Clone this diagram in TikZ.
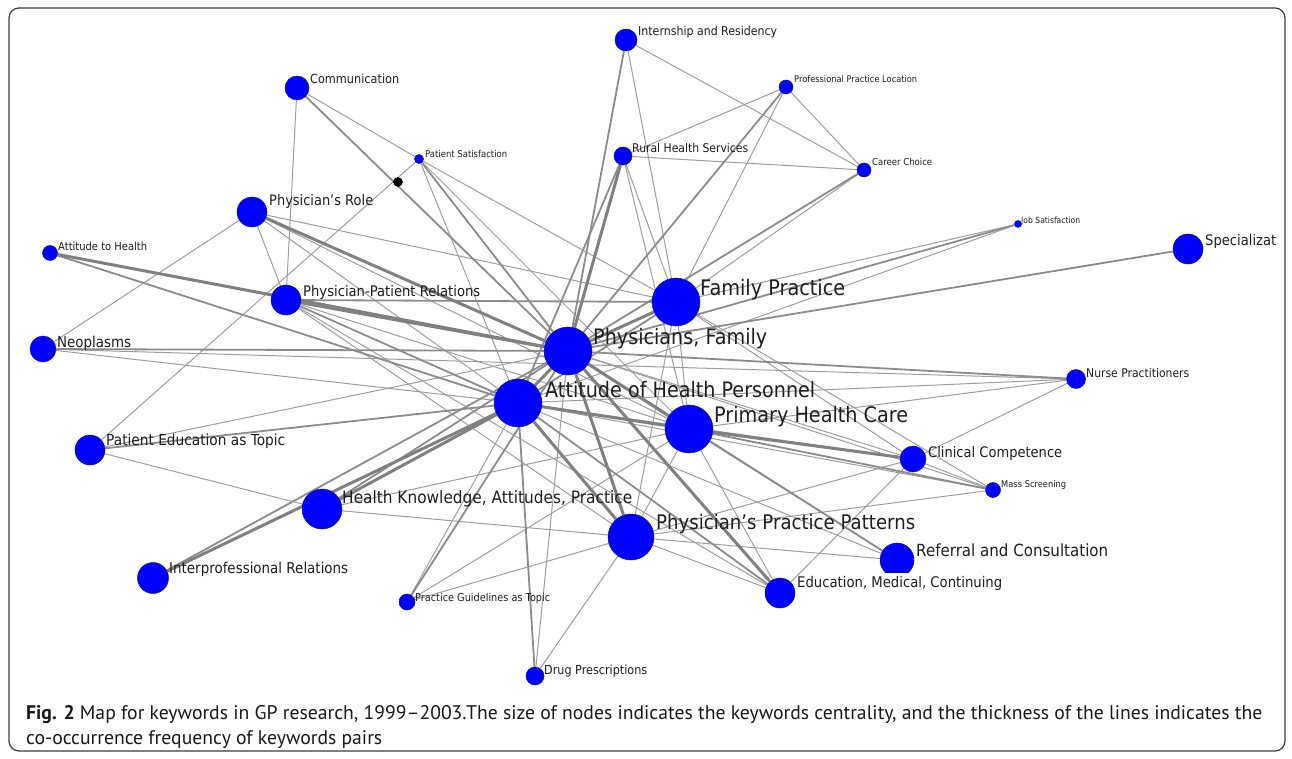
\documentclass[tikz,border=0pt]{standalone}
\usepackage{fontspec}
\usepackage{graphicx}
\newfontfamily\labfont[FakeStretch=0.9]{DejaVu Sans}
\newfontfamily\capfont{PT Sans}
\usetikzlibrary{backgrounds}
\definecolor{kwblue}{RGB}{0,0,255}
\definecolor{kwrim}{RGB}{20,20,150}
\definecolor{thingray}{RGB}{158,158,158}
\definecolor{midgray}{RGB}{140,140,140}
\definecolor{thickgray}{RGB}{128,128,128}
\definecolor{framegray}{RGB}{60,60,60}
\definecolor{labgray}{RGB}{30,30,30}
\newcommand{\kwl}[2]{\resizebox{#1pt}{!}{\labfont #2}}
\begin{document}
\begin{tikzpicture}[x=1pt,y=-1pt,
  kw/.style={circle, fill=kwblue, draw=kwrim, line width=0.5pt, inner sep=0pt, minimum size=#1pt},
  lbl/.style={anchor=base west, inner sep=0pt, text=labgray},
  ethin/.style={draw=thingray, line width=1pt},
  emid/.style={draw=midgray, line width=1.8pt},
  ethick/.style={draw=thickgray, line width=3pt}]
\useasboundingbox (0,0) rectangle (1292,759);
\draw[framegray, line width=1.2pt, rounded corners=10pt] (9,8) rectangle (1285,751);

% keyword nodes
\node[kw=22] (ir) at (626,40) {};
\node[kw=24] (comm) at (297,88) {};
\node[kw=14] (ppl) at (786,87) {};
\node[kw=9] (ps) at (419,159) {};
\node[kw=9, fill=black, draw=black] (bd) at (398,182) {};
\node[kw=18] (rhs) at (623,156) {};
\node[kw=14] (carc) at (864,170) {};
\node[kw=30] (pr) at (252,212) {};
\node[kw=7] (js) at (1018,224) {};
\node[kw=15] (ath) at (50,253) {};
\node[kw=30] (spec) at (1188,249) {};
\node[kw=48] (fp) at (676,302) {};
\node[kw=30] (ppr) at (286,300) {};
\node[kw=26] (neo) at (43,349) {};
\node[kw=48] (pf) at (568,351) {};
\node[kw=19] (np) at (1076,379) {};
\node[kw=48] (ahp) at (518,403) {};
\node[kw=48] (phc) at (689,429) {};
\node[kw=30] (pe) at (90,450) {};
\node[kw=26] (clc) at (913,459) {};
\node[kw=15] (ms) at (993,490) {};
\node[kw=40] (hk) at (322,509) {};
\node[kw=46] (ppp) at (631,537) {};
\begin{scope}
  \clip (870,530) rectangle (925,572);
  \node[kw=34] (ref) at (897,560) {};
\end{scope}
\node[kw=31] (ipr) at (153,578) {};
\node[kw=30] (emc) at (780,593) {};
\node[kw=16] (pg) at (407,602) {};
\node[kw=18] (dp) at (535,676) {};

% labels
\node[lbl] (fp-l) at (700,295) {\kwl{145}{Family Practice}};
\node[lbl] (pf-l) at (593,344) {\kwl{174}{Physicians, Family}};
\node[lbl] (ahp-l) at (545,397) {\kwl{270}{Attitude of Health Personnel}};
\node[lbl] (phc-l) at (714,422) {\kwl{194}{Primary Health Care}};
\node[lbl] (hk-l) at (342,503) {\kwl{290}{Health Knowledge, Attitudes, Practice}};
\node[lbl] (ppp-l) at (656,529) {\kwl{259}{Physician’s Practice Patterns}};
\node[lbl] (ref-l) at (916,556) {\kwl{192}{Referral and Consultation}};
\node[lbl] (clc-l) at (928,457) {\kwl{134}{Clinical Competence}};
\node[lbl] (emc-l) at (797,587) {\kwl{205}{Education, Medical, Continuing}};
\node[lbl] (ppr-l) at (303,296) {\kwl{177}{Physician-Patient Relations}};
\node[lbl] (pr-l) at (269,206) {\kwl{104}{Physician’s Role}};
\node[lbl] (neo-l) at (57,347) {\kwl{74}{Neoplasms}};
\node[lbl] (pe-l) at (106,445) {\kwl{179}{Patient Education as Topic}};
\node[lbl] (ipr-l) at (169,573) {\kwl{179}{Interprofessional Relations}};
\node[lbl] (spec-l) at (1205,245) {\kwl{71}{Specializat}};
\node[lbl] (comm-l) at (310,84) {\kwl{89}{Communication}};
\node[lbl] (ir-l) at (638,36) {\kwl{139}{Internship and Residency}};
\node[lbl] (rhs-l) at (632,153) {\kwl{116}{Rural Health Services}};
\node[lbl] (carc-l) at (872,166) {\kwl{60}{Career Choice}};
\node[lbl] (np-l) at (1086,377) {\kwl{103}{Nurse Practitioners}};
\node[lbl] (dp-l) at (544,674) {\kwl{103}{Drug Prescriptions}};
\node[lbl] (pg-l) at (415,601) {\kwl{135}{Practice Guidelines as Topic}};
\node[lbl] (ath-l) at (58,251) {\kwl{89}{Attitude to Health}};
\node[lbl] (ppl-l) at (794,83) {\kwl{123}{Professional Practice Location}};
\node[lbl] (ps-l) at (425,158) {\kwl{82}{Patient Satisfaction}};
\node[lbl] (ms-l) at (1001,487) {\kwl{65}{Mass Screening}};
\node[lbl] (js-l) at (1021,223) {\kwl{59}{Job Satisfaction}};

% connectors
\begin{scope}[on background layer]
\foreach \a/\b in {comm/ppr, comm/ps, ps/pe, ps/ahp, ps/fp, ps/phc, pr/ppr, pr/neo, pr/ahp, pr/fp, pr/phc,
  ppr/phc, ppr/ppp, ppr/emc, neo/ahp, neo/np, ir/fp, ir/carc, ppl/rhs, ppl/carc, ppl/fp, rhs/carc, rhs/fp, rhs/phc,
  carc/fp, js/fp, js/ahp, fp/phc, fp/ppp, np/ahp, np/phc, np/clc, pf/dp, pf/clc, pf/ms, pf/pe,
  ahp/pg, ahp/clc, ahp/ref, ahp/ms, phc/ppp, phc/emc, phc/hk, phc/pg, phc/ref, clc/ms, clc/ppp, clc/emc,
  clc/fp, ms/ppp, ms/fp, ppp/hk, ppp/ref, ppp/emc, ppp/dp, ppp/pg, hk/pe}
  \draw[ethin] (\a) -- (\b);
\foreach \a/\b in {comm/pf, ps/pf, ath/ahp, ppr/fp, ppr/ahp, neo/pf, ir/pf, ppl/pf, rhs/ahp, carc/pf, js/pf,
  spec/pf, fp/ahp, np/pf, pf/hk, pf/ref, pf/pg, pf/ipr, ahp/pe, ahp/dp, ahp/emc, phc/ms}
  \draw[emid] (\a) -- (\b);
\foreach \a/\b in {pr/pf, ath/pf, ppr/pf, rhs/pf, fp/pf, pf/ahp, pf/phc, pf/ppp, pf/emc, ahp/phc, ahp/ppp,
  ahp/hk, ahp/ipr, phc/clc}
  \draw[ethick] (\a) -- (\b);
\end{scope}

% caption
\node[anchor=base west, inner sep=0pt, text=black!90] (cap1) at (26,719)
  {\resizebox{1236pt}{!}{\capfont\textbf{Fig. 2} Map for keywords in GP research, 1999–2003.The size of nodes indicates the keywords centrality, and the thickness of the lines indicates the}};
\node[anchor=base west, inner sep=0pt, text=black!90] (cap2) at (26,744)
  {\resizebox{356pt}{!}{\capfont co-occurrence frequency of keywords pairs}};
\end{tikzpicture}
\end{document}
